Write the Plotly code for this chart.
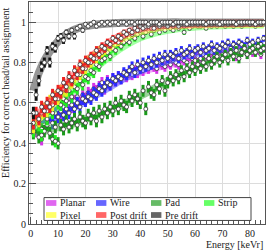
import plotly.graph_objects as go

energy = list(range(1, 86))

planar = [0.49, 0.46, 0.51, 0.42, 0.52, 0.50, 0.53, 0.55, 0.52, 0.56,
          0.55, 0.58, 0.57, 0.60, 0.58, 0.61, 0.63, 0.60, 0.64, 0.62,
          0.65, 0.64, 0.67, 0.66, 0.68, 0.70, 0.67, 0.71, 0.69, 0.72,
          0.71, 0.73, 0.72, 0.74, 0.73, 0.75, 0.74, 0.76, 0.75, 0.77,
          0.76, 0.78, 0.77, 0.79, 0.78, 0.77, 0.80, 0.79, 0.78, 0.80,
          0.79, 0.81, 0.80, 0.79, 0.82, 0.81, 0.80, 0.83, 0.82, 0.81,
          0.83, 0.82, 0.84, 0.83, 0.82, 0.85, 0.83, 0.84, 0.86, 0.84,
          0.85, 0.84, 0.86, 0.85, 0.83, 0.86, 0.85, 0.87, 0.84, 0.86,
          0.85, 0.87, 0.86, 0.84, 0.87]
wire = [0.47, 0.50, 0.46, 0.52, 0.49, 0.51, 0.54, 0.50, 0.55, 0.53,
        0.56, 0.54, 0.57, 0.55, 0.59, 0.57, 0.60, 0.58, 0.62, 0.61,
        0.63, 0.62, 0.65, 0.64, 0.67, 0.66, 0.68, 0.70, 0.69, 0.72,
        0.71, 0.73, 0.72, 0.75, 0.74, 0.76, 0.78, 0.75, 0.79, 0.77,
        0.80, 0.78, 0.81, 0.79, 0.82, 0.80, 0.83, 0.81, 0.84, 0.82,
        0.84, 0.83, 0.85, 0.82, 0.86, 0.84, 0.85, 0.87, 0.84, 0.86,
        0.87, 0.85, 0.88, 0.86, 0.87, 0.89, 0.86, 0.88, 0.87, 0.89,
        0.88, 0.90, 0.87, 0.89, 0.88, 0.90, 0.89, 0.88, 0.91, 0.89,
        0.90, 0.88, 0.91, 0.89, 0.92]
pad = [0.45, 0.48, 0.43, 0.47, 0.46, 0.49, 0.45, 0.42, 0.48, 0.40,
       0.49, 0.47, 0.51, 0.48, 0.50, 0.52, 0.49, 0.53, 0.51, 0.50,
       0.54, 0.52, 0.55, 0.51, 0.56, 0.53, 0.57, 0.55, 0.58, 0.56,
       0.60, 0.57, 0.61, 0.59, 0.58, 0.63, 0.61, 0.64, 0.62, 0.60,
       0.66, 0.57, 0.68, 0.65, 0.64, 0.69, 0.67, 0.71, 0.66, 0.70,
       0.73, 0.71, 0.74, 0.72, 0.76, 0.73, 0.77, 0.75, 0.78, 0.76,
       0.79, 0.77, 0.80, 0.78, 0.82, 0.79, 0.81, 0.83, 0.80, 0.82,
       0.84, 0.81, 0.85, 0.83, 0.86, 0.82, 0.85, 0.87, 0.84, 0.86,
       0.87, 0.85, 0.88, 0.86, 0.87]
strip = [0.46, 0.52, 0.49, 0.44, 0.55, 0.52, 0.57, 0.55, 0.41, 0.60,
         0.59, 0.62, 0.61, 0.66, 0.63, 0.68, 0.67, 0.71, 0.69, 0.73,
         0.72, 0.76, 0.75, 0.79, 0.78, 0.81, 0.82, 0.85, 0.83, 0.87,
         0.86, 0.89, 0.88, 0.90, 0.91, 0.90, 0.93, 0.92, 0.94, 0.95,
         0.93, 0.95, 0.96, 0.94, 0.96, 0.97, 0.95, 0.97, 0.96, 0.98,
         0.97, 0.96, 0.98, 0.97, 0.98, 0.95, 0.98, 0.97, 0.98, 0.99,
         0.98, 0.98, 0.99, 0.97, 0.99, 0.98, 0.99, 0.98, 0.99, 0.99,
         0.98, 0.99, 0.99, 0.98, 0.99, 0.99, 0.98, 0.99, 0.99, 0.99,
         0.99, 0.98, 0.99, 0.99, 0.99]
pixel = [0.48, 0.53, 0.51, 0.55, 0.57, 0.56, 0.61, 0.59, 0.63, 0.62,
         0.66, 0.67, 0.66, 0.71, 0.70, 0.73, 0.75, 0.74, 0.78, 0.77,
         0.81, 0.80, 0.83, 0.82, 0.86, 0.85, 0.86, 0.89, 0.88, 0.90,
         0.91, 0.90, 0.93, 0.93, 0.94, 0.95, 0.94, 0.96, 0.97, 0.96,
         0.97, 0.97, 0.98, 0.97, 0.98, 0.98, 0.99, 0.98, 0.98, 0.99,
         0.99, 0.98, 0.99, 0.99, 0.99, 0.98, 0.99, 0.99, 1.00, 0.99,
         0.99, 0.99, 1.00, 0.99, 0.99, 0.99, 0.99, 1.00, 0.99, 0.99,
         0.99, 1.00, 0.99, 0.99, 1.00, 0.99, 0.99, 0.99, 1.00, 0.99,
         0.99, 1.00, 0.99, 0.99, 1.00]
post_drift = [0.50, 0.55, 0.52, 0.58, 0.56, 0.60, 0.58, 0.64, 0.62, 0.66,
              0.65, 0.70, 0.68, 0.73, 0.71, 0.76, 0.74, 0.79, 0.77, 0.81,
              0.80, 0.83, 0.82, 0.86, 0.84, 0.88, 0.87, 0.90, 0.89, 0.92,
              0.91, 0.93, 0.92, 0.95, 0.94, 0.96, 0.95, 0.97, 0.96, 0.98,
              0.97, 0.98, 0.98, 0.99, 0.97, 0.99, 0.98, 0.99, 0.99, 0.98,
              0.99, 0.99, 1.00, 0.98, 0.99, 0.99, 1.00, 0.99, 0.99, 1.00,
              0.99, 1.00, 0.99, 0.99, 1.00, 0.99, 1.00, 0.99, 1.00, 0.99,
              1.00, 0.99, 1.00, 1.00, 0.99, 1.00, 0.99, 1.00, 1.00, 0.99,
              1.00, 0.99, 1.00, 0.99, 1.00]
pre_drift = [0.55, 0.64, 0.71, 0.78, 0.80, 0.86, 0.80, 0.88, 0.87, 0.92,
             0.93, 0.91, 0.95, 0.93, 0.96, 0.93, 0.97, 0.98, 0.96, 0.99,
             0.98, 0.99, 1.00, 0.98, 0.99, 1.00, 0.99, 1.00, 0.99, 1.00,
             1.00, 0.99, 1.00, 1.00, 0.99, 1.00, 1.00, 0.99, 1.00, 1.00,
             1.00, 1.00, 0.99, 1.00, 1.00, 1.00, 0.99, 1.00, 1.00, 1.00,
             1.00, 0.99, 1.00, 1.00, 1.00, 1.00, 0.99, 1.00, 1.00, 1.00,
             1.00, 1.00, 1.00, 0.99, 1.00, 1.00, 1.00, 1.00, 0.99, 1.00,
             1.00, 1.00, 1.00, 1.00, 0.99, 1.00, 1.00, 1.00, 1.00, 1.00,
             1.00, 0.99, 1.00, 1.00, 1.00]

fit_energy = [1, 3, 5, 7, 10, 13, 16, 20, 25, 30, 35, 40, 45, 50, 55, 60, 65, 70, 75, 80, 85]
fit_planar = [0.48, 0.50, 0.515, 0.53, 0.55, 0.575, 0.60, 0.63, 0.665, 0.70, 0.73, 0.755, 0.775, 0.79, 0.805, 0.82, 0.833, 0.845, 0.853, 0.86, 0.865]
fit_wire = [0.47, 0.49, 0.505, 0.52, 0.54, 0.56, 0.58, 0.61, 0.65, 0.69, 0.73, 0.76, 0.79, 0.81, 0.83, 0.845, 0.86, 0.87, 0.88, 0.885, 0.89]
fit_pad = [0.45, 0.455, 0.46, 0.47, 0.48, 0.49, 0.50, 0.52, 0.545, 0.57, 0.60, 0.635, 0.67, 0.71, 0.745, 0.775, 0.80, 0.825, 0.845, 0.86, 0.87]
fit_strip = [0.48, 0.50, 0.525, 0.55, 0.59, 0.63, 0.67, 0.725, 0.79, 0.845, 0.89, 0.925, 0.947, 0.962, 0.972, 0.978, 0.982, 0.985, 0.987, 0.988, 0.989]
fit_pixel = [0.50, 0.525, 0.55, 0.58, 0.625, 0.67, 0.715, 0.775, 0.84, 0.89, 0.93, 0.955, 0.97, 0.98, 0.985, 0.988, 0.99, 0.99, 0.991, 0.991, 0.992]
fit_post_drift = [0.52, 0.545, 0.575, 0.605, 0.65, 0.695, 0.74, 0.80, 0.86, 0.91, 0.945, 0.97, 0.98, 0.988, 0.99, 0.992, 0.994, 0.995, 0.995, 0.996, 0.996]
fit_pre_drift = [0.66, 0.75, 0.81, 0.855, 0.905, 0.94, 0.963, 0.98, 0.99, 0.995, 0.997, 0.998, 0.998, 0.999, 0.999, 0.999, 0.999, 0.999, 0.999, 0.999, 0.999]

events_per_bin = 260

names = ["Planar", "Wire", "Pad", "Strip", "Pixel", "Post drift", "Pre drift"]
values = [planar, wire, pad, strip, pixel, post_drift, pre_drift]
fits = [fit_planar, fit_wire, fit_pad, fit_strip, fit_pixel, fit_post_drift, fit_pre_drift]
bar_colors = ["#d633e8", "#2a2aff", "#1a9a1a", "#22ee22", "#eeee22", "#ee2222", "#111111"]
band_colors = ["rgba(224,90,240,0.55)", "rgba(90,90,255,0.55)", "rgba(70,170,70,0.55)",
               "rgba(90,255,90,0.55)", "rgba(255,255,80,0.55)", "rgba(255,80,80,0.55)",
               "rgba(80,80,80,0.6)"]
swatch_colors = ["#e066f0", "#6666ff", "#66bb66", "#66ff66", "#ffff66", "#ff6666", "#666666"]

fig = go.Figure()
for name, vals, fit, bc, fc in zip(names, values, fits, bar_colors, band_colors):
    fig.add_trace(go.Scatter(x=fit_energy, y=fit, mode="lines", line=dict(color=fc, width=8, shape="spline"),
                             showlegend=False, hoverinfo="skip"))
    errs = [max((v * (1 - v) / events_per_bin) ** 0.5, 0.01) for v in vals]
    fig.add_trace(go.Scatter(x=energy, y=vals, mode="markers", name=name, showlegend=False,
                             marker=dict(symbol="circle", size=4, color="white", line=dict(color="#333333", width=0.8)),
                             error_y=dict(type="data", array=errs, color=bc, thickness=3, width=0)))

font = "Liberation Serif"
fig.update_layout(
    width=269, height=252,
    margin=dict(l=29, r=4, t=2, b=28),
    paper_bgcolor="white", plot_bgcolor="white",
    font=dict(family=font, size=10, color="#222222"),
    showlegend=False,
)
fig.update_xaxes(range=[-0.6, 85.5], dtick=10, tick0=0, showgrid=True, gridcolor="#dcdcdc", gridwidth=1,
                 zeroline=False, showline=True, linecolor="#555555", linewidth=1, mirror=True,
                 ticks="inside", ticklen=7, tickcolor="#555555",
                 minor=dict(dtick=2, ticks="inside", ticklen=4, tickcolor="#555555", showgrid=False),
                 tickfont=dict(family=font, size=10), automargin=False)
fig.update_yaxes(range=[0, 1.1], dtick=0.2, tick0=0, showgrid=True, gridcolor="#dcdcdc", gridwidth=1,
                 zeroline=False, showline=True, linecolor="#555555", linewidth=1, mirror=True,
                 ticks="inside", ticklen=7, tickcolor="#555555",
                 minor=dict(dtick=0.05, ticks="inside", ticklen=4, tickcolor="#555555", showgrid=False),
                 tickfont=dict(family=font, size=10), automargin=False)

# axis titles
fig.add_annotation(text="Energy [keVr]", xref="paper", yref="paper", x=1.0, y=-0.091,
                   xanchor="right", yanchor="middle", showarrow=False, font=dict(family=font, size=10))
fig.add_annotation(text="Efficiency for correct head/tail assignment", xref="paper", yref="paper",
                   x=-0.097, y=0.985, xanchor="center", yanchor="top", textangle=-90, showarrow=False,
                   font=dict(family=font, size=10))

# legend box (drawn manually)
fig.add_shape(type="rect", xref="paper", yref="paper", x0=0.0636, x1=0.9407, y0=0.016, y1=0.119,
              line=dict(color="#444444", width=1), fillcolor="white", layer="above")
col_x = [0.0720, 0.2839, 0.5170, 0.7415]
row_y = [0.0946, 0.0405]
for i, (name, sc) in enumerate(zip(names, swatch_colors)):
    r, c = divmod(i, 4)
    x0 = col_x[c]
    y = row_y[r]
    fig.add_shape(type="rect", xref="paper", yref="paper", x0=x0, x1=x0 + 0.044, y0=y - 0.013, y1=y + 0.013,
                  line=dict(width=0), fillcolor=sc, layer="above")
    fig.add_annotation(text=name, xref="paper", yref="paper", x=x0 + 0.052, y=y, xanchor="left",
                       yanchor="middle", showarrow=False, font=dict(family=font, size=10, color="#222222"))

fig.write_html("out.html", config={"displayModeBar": False},
               post_script="document.body.style.margin='0';document.body.style.overflow='hidden';")
